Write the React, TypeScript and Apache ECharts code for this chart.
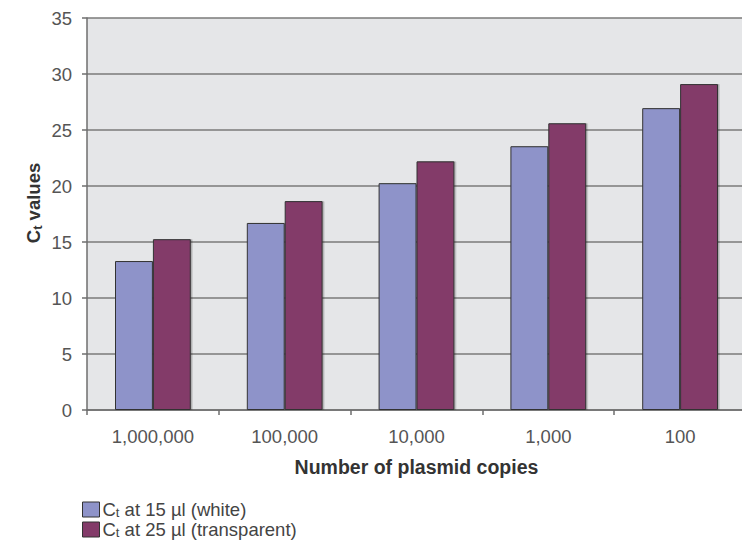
import React, { useEffect, useRef } from "react";
import * as echarts from "echarts";

const categories = ["1,000,000", "100,000", "10,000", "1,000", "100"];
const white15 = [13.3, 16.7, 20.25, 23.55, 26.95];
const transparent25 = [15.25, 18.65, 22.2, 25.6, 29.1];
const seriesNames = ["Ct at 15 µl (white)", "Ct at 25 µl (transparent)"];
const legendRest = [" at 15 µl (white)", " at 25 µl (transparent)"];

const FONT = "'Liberation Sans', Arial, Helvetica, sans-serif";

export default function App() {
  const ref = useRef<HTMLDivElement>(null);
  useEffect(() => {
    if (!ref.current) return;
    const chart = echarts.init(ref.current, undefined, { renderer: "svg" });
    const barStyle = (color: string) => ({
      color,
      borderColor: "#333333",
      borderWidth: 1,
      shadowColor: "rgba(0,0,0,0.25)",
      shadowOffsetX: 1.5,
      shadowOffsetY: 0,
      shadowBlur: 1,
    });
    const legendFor = (i: number, top: number) => ({
      orient: "vertical",
      left: 82,
      top,
      padding: 0,
      itemWidth: 17,
      itemHeight: 15,
      itemGap: 0,
      icon: "rect",
      itemStyle: { borderColor: "#333333", borderWidth: 1 },
      formatter: () => "{c|C}{s|t}{n|" + legendRest[i] + "}",
      textStyle: {
        fontFamily: FONT,
        color: "#444",
        padding: [0, 0, 0, -2],
        rich: {
          c: { fontSize: 18.5, color: "#444", fontFamily: FONT, lineHeight: 17 },
          s: { fontSize: 13, color: "#444", fontFamily: FONT, lineHeight: 13, padding: [6, 0, 0, 0] },
          n: { fontSize: 18.5, color: "#444", fontFamily: FONT, lineHeight: 17 },
        },
      },
      data: [seriesNames[i]],
    });
    chart.setOption({
      animation: false,
      backgroundColor: "#ffffff",
      textStyle: { fontFamily: FONT },
      grid: {
        left: 87,
        top: 18,
        height: 392,
        width: 659,
        outerBoundsMode: "none",
        show: true,
        backgroundColor: "#e5e6e8",
        borderWidth: 0,
        containLabel: false,
      },
      legend: [legendFor(0, 500), legendFor(1, 520)],
      xAxis: {
        type: "category",
        data: categories,
        name: "Number of plasmid copies",
        nameLocation: "middle",
        nameGap: 47,
        nameTextStyle: {
          fontFamily: FONT,
          fontSize: 19.5,
          fontWeight: "bold",
          color: "#333",
        },
        axisLine: { show: true, lineStyle: { color: "#6e6e6e", width: 1.5 } },
        axisTick: {
          show: true,
          length: 5,
          alignWithLabel: false,
          lineStyle: { color: "#6e6e6e", width: 1.5 },
        },
        axisLabel: {
          margin: 17,
          fontSize: 18.5,
          color: "#555",
          fontFamily: FONT,
        },
        splitLine: { show: false },
      },
      yAxis: {
        type: "value",
        min: 0,
        max: 35,
        interval: 5,
        axisLine: { show: true, lineStyle: { color: "#6e6e6e", width: 1.5 } },
        axisTick: { show: true, length: 5, lineStyle: { color: "#6e6e6e", width: 1.5 } },
        axisLabel: {
          margin: 15,
          fontSize: 18.5,
          color: "#555",
          fontFamily: FONT,
        },
        splitLine: { show: true, lineStyle: { color: "#7a7a7a", width: 1.5 } },
      },
      graphic: [
        {
          type: "text",
          x: 33,
          y: 203,
          rotation: Math.PI / 2,
          style: {
            text: "{c|C}{s|t}{n| values}",
            align: "center",
            verticalAlign: "middle",
            rich: {
              c: { fontSize: 18.5, fontWeight: "bold", fill: "#333", fontFamily: FONT },
              s: {
                fontSize: 13,
                fontWeight: "bold",
                fill: "#333",
                fontFamily: FONT,
                padding: [8, 0, 0, 0],
              },
              n: { fontSize: 18.5, fontWeight: "bold", fill: "#333", fontFamily: FONT },
            },
          },
        },
      ],
      series: [
        {
          name: seriesNames[0],
          type: "bar",
          data: white15,
          barGap: "0%",
          barCategoryGap: "42.5%",
          itemStyle: barStyle("#8e93c9"),
        },
        {
          name: seriesNames[1],
          type: "bar",
          data: transparent25,
          barGap: "0%",
          barCategoryGap: "42.5%",
          itemStyle: barStyle("#833b69"),
        },
      ],
    });
    return () => chart.dispose();
  }, []);
  return <div ref={ref} style={{ width: 742, height: 543, position: "fixed", left: 0, top: 0 }} />;
}
